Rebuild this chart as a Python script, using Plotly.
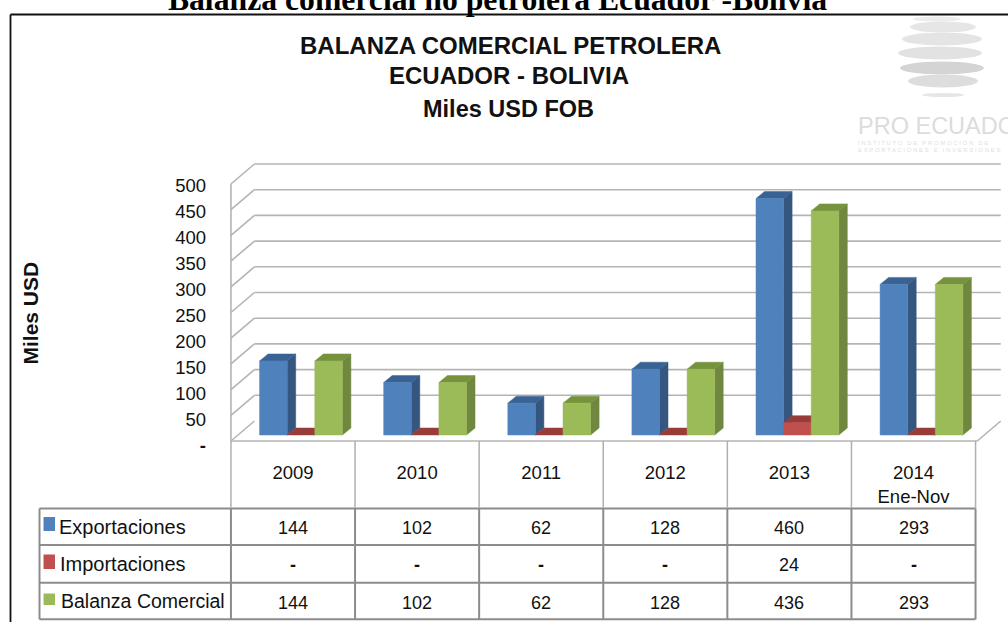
import plotly.graph_objects as go

# Data (miles USD FOB)
years = ["2009", "2010", "2011", "2012", "2013", "2014<br>Ene-Nov"]
exportaciones = [144, 102, 62, 128, 460, 293]
importaciones = [0, 0, 0, 0, 24, 0]
balanza = [144, 102, 62, 128, 436, 293]
series_names = ["Exportaciones", "Importaciones", "Balanza Comercial"]
y_ticks = [0, 50, 100, 150, 200, 250, 300, 350, 400, 450, 500]
y_ticktext = ["<b>-</b>", "50", "100", "150", "200", "250", "300", "350", "400", "450", "500"]

W, H = 1008, 622
FONT = "Liberation Sans"
TXT = "#111111"
GRID = "#b4b4b4"
CELL = "#8c8c8c"

# Pixel calibration of the fake 3D scene
CAT_PX = 124.1        # width of one category
CAT0_PX = 293.0       # centre of the first category on the front plane
ZERO_PX = 441.0       # value 0 on the front plane
VAL_PX = 0.514        # pixels per value unit

x_unit = lambda px: px / CAT_PX
y_unit = lambda px: px / VAL_PX
px_x = lambda px: px / W
px_y = lambda py: 1 - py / H

BAR_W = x_unit(27.6)
BAR_SHIFT = x_unit(8.0)
BASE = y_unit(6)
DEPTH_X, DEPTH_Y = x_unit(8.5), y_unit(7)
WALL_X, WALL_Y = x_unit(23.5), y_unit(20)
OVERHANG = x_unit(1.7)
FIRST = -0.5
LAST = len(years) - 0.5

colors = [
    ("#4F81BD", "#35577F", "#3A6395"),
    ("#C0504D", "#8C3836", "#983C3A"),
    ("#9BBB59", "#6F873F", "#76923C"),
]

fig = go.Figure()


def add_face(xs, ys, color):
    fig.add_trace(go.Scatter(
        x=xs + xs[:1], y=ys + ys[:1], mode="lines", fill="toself",
        fillcolor=color, line=dict(color=color, width=0.5),
        hoverinfo="skip", showlegend=False,
    ))


# Each series is drawn left to right so the next front face hides the last side
for s_idx, values in enumerate([exportaciones, importaciones, balanza]):
    front, side, top = colors[s_idx]
    for i, v in enumerate(values):
        x0 = i + BAR_SHIFT + (s_idx - 1.5) * BAR_W
        x1 = x0 + BAR_W
        y0, y1 = BASE, BASE + v
        add_face([x1, x1 + DEPTH_X, x1 + DEPTH_X, x1], [y0, y0 + DEPTH_Y, y1 + DEPTH_Y, y1], side)
        add_face([x0, x1, x1 + DEPTH_X, x0 + DEPTH_X], [y1, y1, y1 + DEPTH_Y, y1 + DEPTH_Y], top)
        if v > 0:
            add_face([x0, x1, x1, x0], [y0, y0, y1, y1], front)

# invisible trace so the label axis exists
fig.add_trace(go.Scatter(x=[0] * len(y_ticks), y=y_ticks, yaxis="y2", mode="markers",
                         marker=dict(opacity=0), hoverinfo="skip", showlegend=False))

shapes = []


def grid_line(x0, y0, x1, y1, color=GRID, width=1.6, layer="below", ref="data"):
    xr, yr = ("x", "y") if ref == "data" else ("paper", "paper")
    shapes.append(dict(type="line", xref=xr, yref=yr, x0=x0, y0=y0, x1=x1, y1=y1,
                       layer=layer, line=dict(color=color, width=width)))


# Walls: grid lines with their diagonal, and the floor
for v in y_ticks:
    grid_line(FIRST, v, FIRST + WALL_X, v + WALL_Y)
    if v > 0:
        grid_line(FIRST + WALL_X, v + WALL_Y, LAST + WALL_X + OVERHANG, v + WALL_Y)
grid_line(FIRST, 0, FIRST, 500)
grid_line(FIRST, 0, LAST + OVERHANG, 0)
grid_line(LAST + OVERHANG, 0, LAST + WALL_X + OVERHANG, WALL_Y)

# Table below the chart
ROW_Y = [508.5, 545, 582.7, 619.3]
TBL_L, TBL_R = 39.5, 975.5
for i in range(len(years) + 1):
    xp = FIRST + i
    grid_line(xp, y_unit(ZERO_PX - 508), xp, 0, color="#b0b0b0", width=1.5)
    grid_line(px_x(CAT0_PX + (xp * CAT_PX)), px_y(ROW_Y[0]), px_x(CAT0_PX + (xp * CAT_PX)), px_y(ROW_Y[-1]),
              color=CELL, width=2, ref="paper")
for py in ROW_Y:
    grid_line(px_x(TBL_L), px_y(py), px_x(TBL_R), px_y(py), color=CELL, width=2, ref="paper")
grid_line(px_x(TBL_L), px_y(ROW_Y[0]), px_x(TBL_L), px_y(ROW_Y[-1]), color=CELL, width=2, ref="paper")

# Outer frame, left and top only reach the picture's border
grid_line(px_x(10.5), px_y(14.5), px_x(10.5), px_y(H), color="#111111", width=1.8, ref="paper")
grid_line(px_x(10.5), px_y(14.5), px_x(W), px_y(14.5), color="#111111", width=1.8, ref="paper")

# Legend keys inside the table
keys = [(517, 531), (554.5, 569), (593.5, 605)]
for (top_px, bot_px), (front, _, _) in zip(keys, colors):
    shapes.append(dict(type="rect", xref="paper", yref="paper",
                       x0=px_x(43.5), x1=px_x(55), y0=px_y(bot_px), y1=px_y(top_px),
                       fillcolor=front, line=dict(width=0)))

# PRO ECUADOR logo, grey streaks of the globe
streaks = [
    (937, 19, 24, 2.5, "#ececec"), (943, 27, 33, 5.5, "#e6e6e6"), (942, 39, 40, 6.5, "#e4e4e4"),
    (940, 53, 42, 6.5, "#e2e2e2"), (942, 68, 42, 6.5, "#d4d4d4"), (943, 81, 35, 6.5, "#dddddd"),
    (943, 95, 21, 2, "#e6e6e6"),
]
for cx, cy, rx, ry, col in streaks:
    shapes.append(dict(type="circle", xref="paper", yref="paper", layer="below",
                       x0=px_x(cx - rx), x1=px_x(cx + rx), y0=px_y(cy + ry), y1=px_y(cy - ry),
                       fillcolor=col, line=dict(width=0)))

annotations = []


def label(text, xp, yp, size=18, bold=False, color=TXT, anchor="center", xref="paper", font=FONT, **kw):
    annotations.append(dict(
        text=f"<b>{text}</b>" if bold else text, xref=xref, yref="paper",
        x=xp, y=px_y(yp), xanchor=anchor, yanchor="middle", showarrow=False,
        font=dict(family=font, size=size, color=color), **kw,
    ))


label("BALANZA COMERCIAL PETROLERA", px_x(510), 45, size=24, bold=True)
label("ECUADOR - BOLIVIA", px_x(509), 75, size=24, bold=True)
label("Miles USD FOB", px_x(508), 109, size=23.5, bold=True)
label("Miles USD", px_x(30), 313.5, size=21, bold=True, textangle=-90)

label("PRO ECUADOR", px_x(855.5), 126, size=23.5, color="#dcdcdc", anchor="left")
label("I N S T I T U T O   D E   P R O M O C I Ó N   D E", px_x(855.5), 143, size=6, color="#e0e0e0", anchor="left")
label("E X P O R T A C I O N E S   E   I N V E R S I O N E S", px_x(855.5), 150, size=6, color="#e0e0e0", anchor="left")

# Table text
value_y = [528, 565, 603]
name_y = [527, 563.5, 601]
name_x = [56.5, 57.5, 59]
name_size = [20, 20, 19.5]
for name, nx, ny, ns, vy, values in zip(series_names, name_x, name_y, name_size, value_y,
                                        [exportaciones, importaciones, balanza]):
    label(name, px_x(nx), ny, size=ns, anchor="left")
    for i, v in enumerate(values):
        label(str(v) if v else "<b>-</b>", i, vy, size=18, xref="x")

fig.update_layout(
    width=W, height=H,
    margin=dict(l=0, r=0, t=0, b=0),
    autosize=False,
    paper_bgcolor="white", plot_bgcolor="rgba(0,0,0,0)",
    showlegend=False,
    title=dict(text="<b>Balanza comercial no petrolera Ecuador -Bolivia</b>",
               x=497.5 / W, xanchor="center", y=1 - 10 / H, yanchor="bottom",
               font=dict(family="Liberation Serif", size=31.7, color="black")),
    xaxis=dict(range=[-CAT0_PX / CAT_PX, (W - CAT0_PX) / CAT_PX], domain=[0, 1],
               anchor="free", position=px_y(459),
               tickvals=list(range(len(years))), ticktext=years,
               showgrid=False, zeroline=False, showline=False, ticks="",
               tickfont=dict(family=FONT, size=18.5, color=TXT)),
    yaxis=dict(range=[(ZERO_PX - H) / VAL_PX, ZERO_PX / VAL_PX], domain=[0, 1], visible=False),
    yaxis2=dict(range=[(446 - H) / 0.52, 446 / 0.52], domain=[0, 1], overlaying="y",
                anchor="free", position=px_x(206), side="left",
                tickvals=y_ticks, ticktext=y_ticktext,
                showgrid=False, zeroline=False, showline=False, ticks="",
                tickfont=dict(family=FONT, size=18.5, color=TXT)),
    shapes=shapes,
    annotations=annotations,
)

fig.write_html("out.html", config=dict(displayModeBar=False),
               post_script="document.body.style.margin='0';")
